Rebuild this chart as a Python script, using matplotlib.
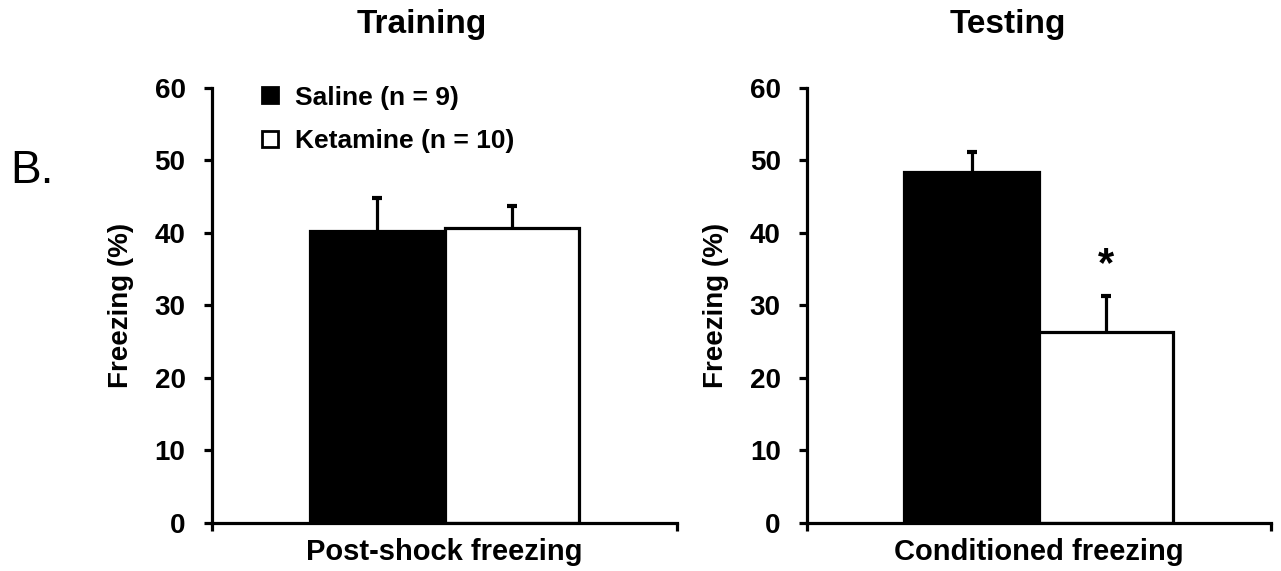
import matplotlib
matplotlib.use("Agg")
import matplotlib.pyplot as plt
from matplotlib.lines import Line2D

plt.rcParams['font.family'] = ['Liberation Sans', 'DejaVu Sans']
plt.rcParams['font.weight'] = 'bold'

# data
groups = ["Saline (n = 9)", "Ketamine (n = 10)"]
bar_colors = ["black", "white"]
panel_titles = ["Training", "Testing"]
panel_xlabels = ["Post-shock freezing", "Conditioned freezing"]
training_means = [40.2, 40.7]
training_sems = [4.6, 3.0]
testing_means = [48.4, 26.4]
testing_sems = [2.8, 4.9]
y_ticks = [0, 10, 20, 30, 40, 50, 60]

fig = plt.figure(figsize=(12.81, 5.71), dpi=100)
ax1 = fig.add_axes([0.1655, 0.0841, 0.363, 0.762])
ax2 = fig.add_axes([0.630, 0.0841, 0.362, 0.762])

lw = 2.3
bw = 0.29
xpos = [0.5 - bw / 2, 0.5 + bw / 2]

for ax, means, sems, xl in [(ax1, training_means, training_sems, panel_xlabels[0]),
                            (ax2, testing_means, testing_sems, panel_xlabels[1])]:
    ax.bar(xpos, means, width=bw, color=bar_colors, edgecolor="black",
           linewidth=lw, zorder=2)
    # upper error bars only
    tops = [m + s for m, s in zip(means, sems)]
    ax.vlines(xpos, means, tops, color="black", linewidth=2.3, zorder=1)
    ax.plot(xpos, tops, ls="none", marker="_", markersize=7, mew=3,
            color="black", zorder=1)
    ax.set_xlim(0, 1)
    ax.set_ylim(0, 60)
    ax.set_yticks(y_ticks)
    ax.set_xticks([0, 1])
    ax.set_xticklabels(["", ""])
    for s in ["top", "right"]:
        ax.spines[s].set_visible(False)
    for s in ["left", "bottom"]:
        ax.spines[s].set_linewidth(lw)
    ax.tick_params(axis="both", direction="out", length=6, width=lw,
                   labelsize=20, pad=13)
    ax.set_xlabel(xl, fontsize=21, fontweight="bold")
    ax.xaxis.set_label_coords(0.5, -0.035)
    ax.set_ylabel("Freezing (%)", fontsize=20, fontweight="bold")
    ax.yaxis.set_label_coords(-0.168, 0.5)
    for lab in ax.get_yticklabels():
        lab.set_fontweight("bold")

# significance star
ax2.text(xpos[1], testing_means[1] + testing_sems[1] + 4.2, "*",
         ha="center", va="center", fontsize=30, fontweight="bold")

handles = [Line2D([], [], ls="none", marker="s", markersize=12,
                  markerfacecolor=c, markeredgecolor="black", markeredgewidth=2)
           for c in bar_colors]
ax1.legend(handles, groups, loc="upper left", bbox_to_anchor=(0.05, 1.06),
           frameon=False, handlelength=0.8, handletextpad=0.55,
           labelspacing=0.75, prop={"size": 19, "weight": "bold"})

fig.text(422 / 1281, 1 - 25 / 571, panel_titles[0], ha="center", va="center",
         fontsize=24, fontweight="bold")
fig.text(1008 / 1281, 1 - 25 / 571, panel_titles[1], ha="center", va="center",
         fontsize=24, fontweight="bold")
fig.text(10 / 1281, 1 - 183 / 571, "B.", ha="left", va="baseline",
         fontsize=33, fontweight="normal")

fig.savefig("out.png", dpi=100)
